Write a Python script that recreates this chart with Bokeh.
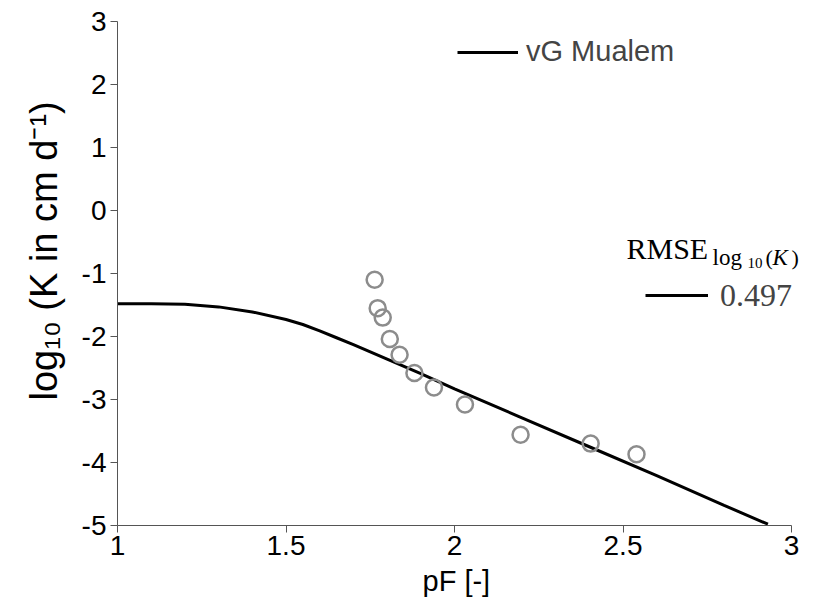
from bokeh.plotting import figure
from bokeh.models import (Range1d, FixedTicker, CustomJSTickFormatter, Label, Title,
                          Legend, LegendItem, ColumnDataSource)
from bokeh.embed import file_html
from bokeh.resources import INLINE

# ---- data ----
x_ticks = [1, 1.5, 2, 2.5, 3]
y_ticks = [-5, -4, -3, -2, -1, 0, 1, 2, 3]

pf_obs = [1.763, 1.772, 1.787, 1.808, 1.837, 1.881, 1.939, 2.031, 2.196, 2.404, 2.540]
logk_obs = [-1.10, -1.55, -1.70, -2.04, -2.29, -2.58, -2.81, -3.08, -3.56, -3.70, -3.87]

pf_fit = [1.0, 1.1, 1.2, 1.3, 1.4, 1.5, 1.55, 1.6, 1.65, 1.7, 1.8, 1.9, 2.0, 2.2, 2.4, 2.6, 2.8, 2.93]
logk_fit = [-1.48, -1.48, -1.49, -1.53, -1.61, -1.73, -1.81, -1.91, -2.02, -2.13, -2.36,
            -2.59, -2.83, -3.29, -3.75, -4.21, -4.68, -4.98]

series_name = "vG Mualem"
rmse_value = "0.497"

SANS = "Liberation Sans"
SERIF = "Liberation Serif"

# frame right edge extended beyond x=3 so the RMSE label is not clipped;
# the axis itself is bounded to [1, 3]
p = figure(width=824, height=610, output_backend="svg", toolbar_location=None,
           x_range=Range1d(1, 3.083), y_range=Range1d(-5, 3),
           min_border_left=117, min_border_right=5, min_border_top=21, min_border_bottom=85)
p.outline_line_color = None
p.xgrid.visible = False
p.ygrid.visible = False
p.background_fill_color = "white"
p.border_fill_color = "white"

fmt = CustomJSTickFormatter(code="return tick.toString();")
for ax, ticks in ((p.xaxis[0], x_ticks), (p.yaxis[0], y_ticks)):
    ax.ticker = FixedTicker(ticks=ticks)
    ax.formatter = fmt
    ax.minor_tick_line_color = None
    ax.major_tick_in = 0
    ax.major_tick_out = 7
    ax.axis_line_color = "#555555"
    ax.major_tick_line_color = "#555555"
    ax.major_label_text_font = SANS
    ax.major_label_text_font_size = "28px"
    ax.major_label_text_color = "black"

p.xaxis[0].bounds = (1, 3)
p.yaxis[0].bounds = (-5, 3)
p.xaxis[0].major_label_standoff = 3
p.yaxis[0].major_label_standoff = 4

# x axis title below, centred under the [1, 3] axis
xtitle = Title(text="pF [-]", align="left", offset=305, standoff=11,
               text_font=SANS, text_font_size="29px",
               text_font_style="normal", text_color="black")
p.add_layout(xtitle, "below")

# y axis title on the left side (starts near y = -3 and reads upwards)
ytitle = Title(text="log\u2081\u2080 (K in cm d\u207b\u00b9)", align="left", offset=125,
               standoff=28, text_font=SANS, text_font_size="38px",
               text_font_style="normal", text_color="black")
p.add_layout(ytitle, "left")

src_fit = ColumnDataSource(dict(x=pf_fit, y=logk_fit))
src_obs = ColumnDataSource(dict(x=pf_obs, y=logk_obs))

line = p.line("x", "y", source=src_fit, line_color="black", line_width=3)
p.scatter("x", "y", source=src_obs, marker="circle", size=16, fill_color=None,
          line_color="#8c8c8c", line_width=2.5)

leg1 = Legend(items=[LegendItem(label=series_name, renderers=[line])],
              location=(340, 457), glyph_width=61, glyph_height=32, label_height=32,
              label_standoff=8, padding=0, margin=0, border_line_color=None,
              background_fill_alpha=0, label_text_font=SANS, label_text_font_size="29px")
leg2 = Legend(items=[LegendItem(label=rmse_value, renderers=[line])],
              location=(528, 211), glyph_width=63, glyph_height=38, label_height=38,
              label_standoff=12, padding=0, margin=0, border_line_color=None,
              background_fill_alpha=0, label_text_font=SERIF, label_text_font_size="32px")
p.add_layout(leg1, "center")
p.add_layout(leg2, "center")

def lab(x, y, t, size, style="normal"):
    p.add_layout(Label(x=x, y=y, x_units="screen", y_units="screen", text=t,
                       text_align="left", text_baseline="alphabetic",
                       text_font=SERIF, text_font_size=size, text_font_style=style,
                       text_color="black"))

lab(509, 277, "RMSE", "30px")
lab(595, 268, "log", "23px")
lab(630, 263, "10", "15px")
lab(648, 268, "(", "22px")
lab(655, 268, "K", "23px", "italic")
lab(674, 268, ")", "22px")

open("out.html", "w").write(file_html(p, INLINE))
